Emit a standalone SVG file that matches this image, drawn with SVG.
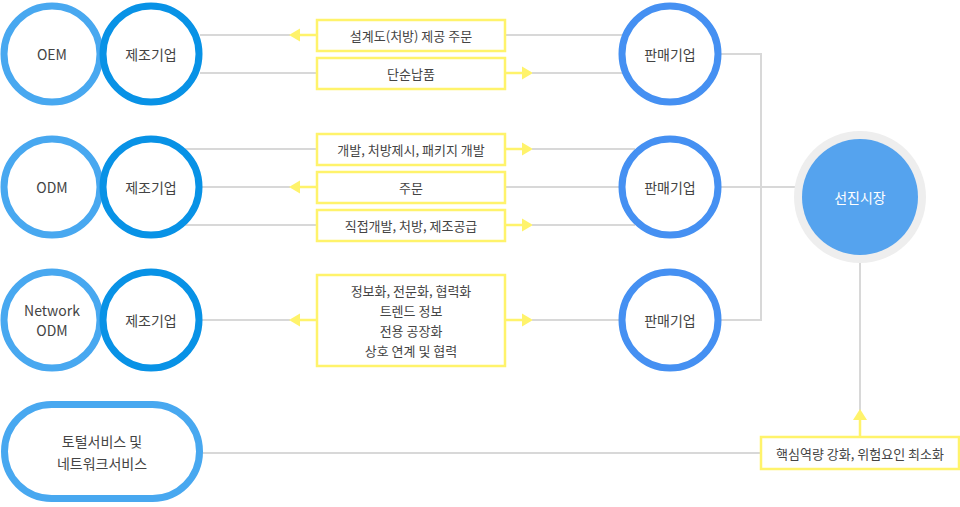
<svg xmlns="http://www.w3.org/2000/svg" width="960" height="507" viewBox="0 0 960 507">
<defs>
<style>
text{font-family:"Noto Sans CJK KR","Noto Sans",sans-serif;fill:#444;text-anchor:middle;dominant-baseline:central}
.n{font-size:14px}
.l{font-size:13px}
.type{fill:#fff;stroke:#48a8f0;stroke-width:7}
.mfg{fill:#fff;stroke:#0892e6;stroke-width:7}
.sale{fill:#fff;stroke:#4590f2;stroke-width:7}
.box{fill:#fff;stroke:#fff36b;stroke-width:2.5}
.g{stroke:#d8d8d8;stroke-width:2;fill:none}
.y{stroke:#fff36b;stroke-width:2.5;fill:none}
.ah{fill:#fff36b}
</style>
</defs>
<g id="connectors">
<line class="g" x1="200" y1="35" x2="290" y2="35"/>
<line class="y" x1="299" y1="35" x2="317" y2="35"/>
<polygon class="ah" points="289,35 300,28.5 300,41.5"/>
<line class="g" x1="505" y1="35" x2="625" y2="35"/>
<line class="g" x1="200" y1="73" x2="317" y2="73"/>
<line class="y" x1="505" y1="73" x2="523" y2="73"/>
<polygon class="ah" points="533,73 522,66.5 522,79.5"/>
<line class="g" x1="532" y1="73" x2="625" y2="73"/>

<line class="g" x1="185" y1="149" x2="317" y2="149"/>
<line class="y" x1="505" y1="149" x2="523" y2="149"/>
<polygon class="ah" points="533,149 522,142.5 522,155.5"/>
<line class="g" x1="532" y1="149" x2="635" y2="149"/>
<line class="g" x1="200" y1="187" x2="290" y2="187"/>
<line class="y" x1="299" y1="187" x2="317" y2="187"/>
<polygon class="ah" points="289,187 300,180.5 300,193.5"/>
<line class="g" x1="505" y1="187" x2="620" y2="187"/>
<line class="g" x1="185" y1="225" x2="317" y2="225"/>
<line class="y" x1="505" y1="225" x2="523" y2="225"/>
<polygon class="ah" points="533,225 522,218.5 522,231.5"/>
<line class="g" x1="532" y1="225" x2="635" y2="225"/>

<line class="g" x1="200" y1="320" x2="290" y2="320"/>
<line class="y" x1="299" y1="320" x2="317" y2="320"/>
<polygon class="ah" points="289,320 300,313.5 300,326.5"/>
<line class="y" x1="505" y1="320" x2="523" y2="320"/>
<polygon class="ah" points="533,320 522,313.5 522,326.5"/>
<line class="g" x1="532" y1="320" x2="620" y2="320"/>

<polyline class="g" points="720,54 761,54 761,320 720,320"/>
<line class="g" x1="720" y1="187" x2="796" y2="187"/>

<line class="g" x1="860" y1="262" x2="860" y2="412"/>
<line class="y" x1="860" y1="419" x2="860" y2="437"/>
<polygon class="ah" points="860,409 853,420 867,420"/>
<line class="g" x1="200" y1="453" x2="761" y2="453"/>
</g>

<g id="oem"><circle class="type" cx="52" cy="54" r="48"/><text class="n" x="52" y="54">OEM</text></g>
<g id="oem-mfg"><circle class="mfg" cx="151" cy="54" r="48"/><text class="n" x="151" y="54">제조기업</text></g>
<g id="odm"><circle class="type" cx="52" cy="187" r="48"/><text class="n" x="52" y="187">ODM</text></g>
<g id="odm-mfg"><circle class="mfg" cx="151" cy="187" r="48"/><text class="n" x="151" y="187">제조기업</text></g>
<g id="nodm"><circle class="type" cx="52" cy="320" r="48"/><text class="n" x="52" y="310">Network</text><text class="n" x="52" y="330">ODM</text></g>
<g id="nodm-mfg"><circle class="mfg" cx="151" cy="320" r="48"/><text class="n" x="151" y="320">제조기업</text></g>
<g id="total"><rect class="type" x="4.5" y="404.5" width="195" height="94" rx="47"/><text class="n" x="102" y="441">토털서비스 및</text><text class="n" x="102" y="463">네트워크서비스</text></g>

<g id="b1"><rect class="box" x="317" y="20" width="188" height="31"/><text class="l" x="411" y="35.5">설계도(처방) 제공 주문</text></g>
<g id="b2"><rect class="box" x="317" y="58" width="188" height="31"/><text class="l" x="411" y="73.5">단순납품</text></g>
<g id="b3"><rect class="box" x="317" y="134" width="188" height="31"/><text class="l" x="411" y="149.5">개발, 처방제시, 패키지 개발</text></g>
<g id="b4"><rect class="box" x="317" y="172" width="188" height="31"/><text class="l" x="411" y="187.5">주문</text></g>
<g id="b5"><rect class="box" x="317" y="210" width="188" height="31"/><text class="l" x="411" y="225.5">직접개발, 처방, 제조공급</text></g>
<g id="b6"><rect class="box" x="317" y="275" width="188" height="91"/>
<text class="l" x="411" y="290">정보화, 전문화, 협력화</text>
<text class="l" x="411" y="310">트렌드 정보</text>
<text class="l" x="411" y="330">전용 공장화</text>
<text class="l" x="411" y="350">상호 연계 및 협력</text></g>

<g id="s1"><circle class="sale" cx="670" cy="54" r="48"/><text class="n" x="670" y="54">판매기업</text></g>
<g id="s2"><circle class="sale" cx="670" cy="187" r="48"/><text class="n" x="670" y="187">판매기업</text></g>
<g id="s3"><circle class="sale" cx="670" cy="320" r="48"/><text class="n" x="670" y="320">판매기업</text></g>

<g id="market"><circle cx="860" cy="197" r="66" fill="#eeeeee"/><circle cx="860" cy="197" r="58" fill="#55a3ee"/><text class="n" x="860" y="197" style="fill:#fff">선진시장</text></g>

<g id="b7"><rect class="box" x="761" y="437" width="198" height="32"/><text class="l" x="860" y="453">핵심역량 강화, 위험요인 최소화</text></g>
</svg>
